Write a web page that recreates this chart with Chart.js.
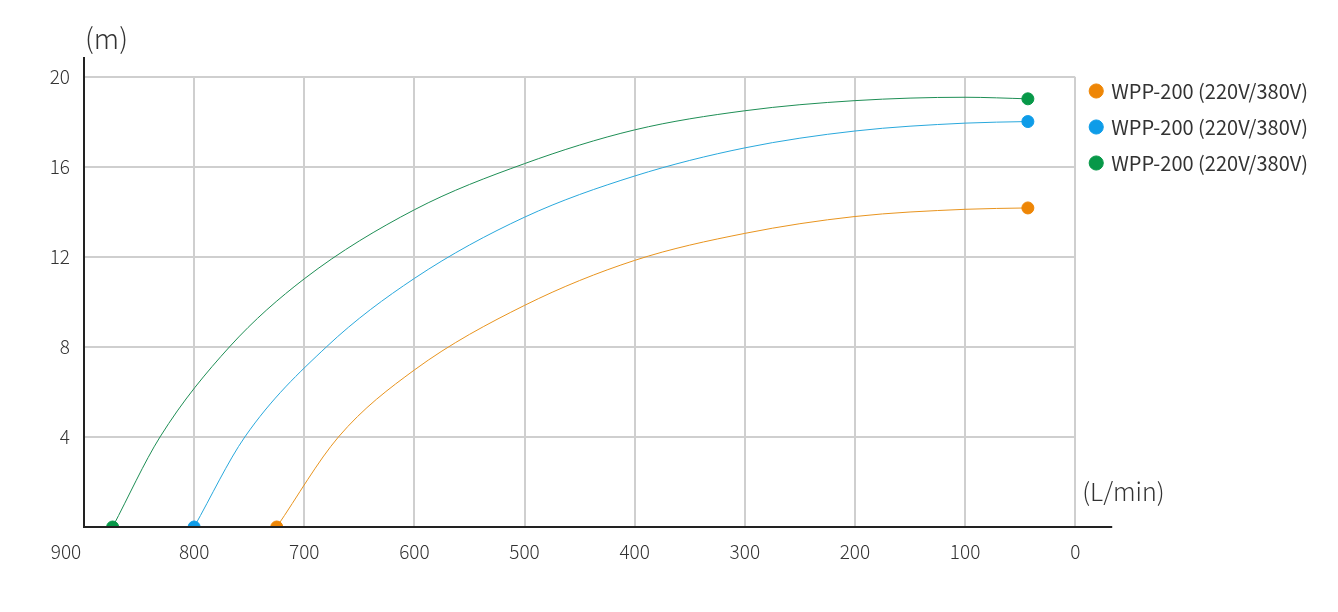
<!DOCTYPE html>
<html>
<head>
  <title>WPP-200 Pump Curve</title>
  <script src="https://cdn.jsdelivr.net/npm/chart.js"></script>
  <style>
    body { margin: 0; background: #fff; }
    #wrap { width: 1338px; height: 612px; }
  </style>
</head>
<body>
<div id="wrap"><canvas id="myChart" width="1338" height="612"></canvas></div>

<script>
  // flow (L/min) and head (m)
  const seriesNames = ['WPP-200 (220V/380V)', 'WPP-200 (220V/380V)', 'WPP-200 (220V/380V)'];
  const orangeFlow = [725, 669, 600, 500, 400, 300, 200, 100, 43];
  const orangeHead = [0, 4, 6.98, 9.85, 11.85, 13.05, 13.8, 14.12, 14.18];
  const blueFlow = [800, 754, 680, 600, 500, 400, 300, 200, 100, 43];
  const blueHead = [0, 4, 8, 11.05, 13.77, 15.6, 16.85, 17.6, 17.95, 18.02];
  const greenFlow = [874, 831, 768, 700, 600, 500, 400, 300, 200, 100, 43];
  const greenHead = [0, 4, 8, 11.03, 14.1, 16.15, 17.65, 18.5, 18.95, 19.1, 19.03];
  const xTicks = [900, 800, 700, 600, 500, 400, 300, 200, 100, 0];
  const yTicks = [0, 4, 8, 12, 16, 20];

  const FONT = "'Noto Sans CJK SC', 'Noto Sans', sans-serif";

  function pts(xs, ys) {
    return xs.map((x, i) => ({ x: x, y: ys[i] }));
  }
  // only the two end points get a dot
  function ends(n) {
    return Array.from({ length: n }, (_, i) => (i === 0 || i === n - 1) ? 6 : 0);
  }
  function makeSet(label, xs, ys, lineColor, dotColor) {
    return {
      label: label,
      data: pts(xs, ys),
      borderColor: lineColor,
      backgroundColor: dotColor,
      pointBackgroundColor: dotColor,
      pointBorderColor: dotColor,
      borderWidth: 1,
      pointRadius: ends(xs.length),
      pointHoverRadius: ends(xs.length),
      cubicInterpolationMode: 'monotone',
      fill: false
    };
  }

  // axis lines run a bit past the plot, plus unit labels
  const axisExtras = {
    id: 'axisExtras',
    afterLayout(chart) {
      // lift the legend so its first row sits near the top grid line
      chart.legend.top -= 12;
      chart.legend.bottom -= 12;
    },
    afterDraw(chart) {
      const ctx = chart.ctx;
      const a = chart.chartArea;
      const xs = chart.scales.x;
      ctx.save();
      ctx.strokeStyle = '#222';
      ctx.lineWidth = 2;
      ctx.beginPath();
      ctx.moveTo(a.left, a.top - 20);
      ctx.lineTo(a.left, a.bottom);
      ctx.lineTo(a.right + 37, a.bottom);
      ctx.stroke();

      ctx.fillStyle = '#333';
      ctx.font = '300 28px ' + FONT;
      ctx.textBaseline = 'middle';
      ctx.textAlign = 'left';
      ctx.fillText('(m)', a.left + 1, 38);
      ctx.font = '300 25px ' + FONT;
      ctx.fillText('(L/min)', a.right + 7, a.bottom - 36);

      // the 900 label sits left of the corner
      ctx.font = '300 19px ' + FONT;
      ctx.textAlign = 'center';
      ctx.fillText('900', xs.getPixelForValue(900) - 18, a.bottom + 25);
      ctx.restore();
    }
  };

  new Chart(document.getElementById('myChart'), {
    type: 'line',
    data: {
      datasets: [
        makeSet(seriesNames[0], orangeFlow, orangeHead, '#E8941F', '#EE8606'),
        makeSet(seriesNames[1], blueFlow, blueHead, '#29A8DC', '#0E9CE8'),
        makeSet(seriesNames[2], greenFlow, greenHead, '#1E8E55', '#079848')
      ]
    },
    options: {
      responsive: false,
      animation: false,
      events: [],
      layout: { padding: { top: 77, left: 0, right: 20, bottom: 0 } },
      plugins: {
        tooltip: { enabled: false },
        legend: {
          position: 'right',
          align: 'start',
          labels: {
            usePointStyle: true,
            pointStyle: 'circle',
            boxWidth: 10,
            boxHeight: 10,
            padding: 16,
            color: '#333',
            font: { family: FONT, size: 20, lineHeight: 0.98 }
          }
        }
      },
      scales: {
        x: {
          type: 'linear',
          reverse: true,
          min: 0,
          max: 900,
          afterBuildTicks: s => { s.ticks = xTicks.map(v => ({ value: v })); },
          afterFit: s => { s.height = 85; },
          border: { display: false },
          grid: { color: '#cfcfcf', lineWidth: 2, drawTicks: false },
          ticks: {
            padding: 13,
            color: '#333',
            font: { family: FONT, size: 19, weight: 300 },
            callback: v => v === 900 ? '' : v
          }
        },
        y: {
          min: 0,
          max: 20,
          afterBuildTicks: s => { s.ticks = yTicks.map(v => ({ value: v })); },
          afterFit: s => { s.width = 84; },
          border: { display: false },
          grid: { color: '#cfcfcf', lineWidth: 2, drawTicks: false },
          ticks: {
            padding: 14,
            color: '#333',
            font: { family: FONT, size: 19, weight: 300 },
            callback: v => v === 0 ? '' : v
          }
        }
      }
    },
    plugins: [axisExtras]
  });
</script>
</body>
</html>
